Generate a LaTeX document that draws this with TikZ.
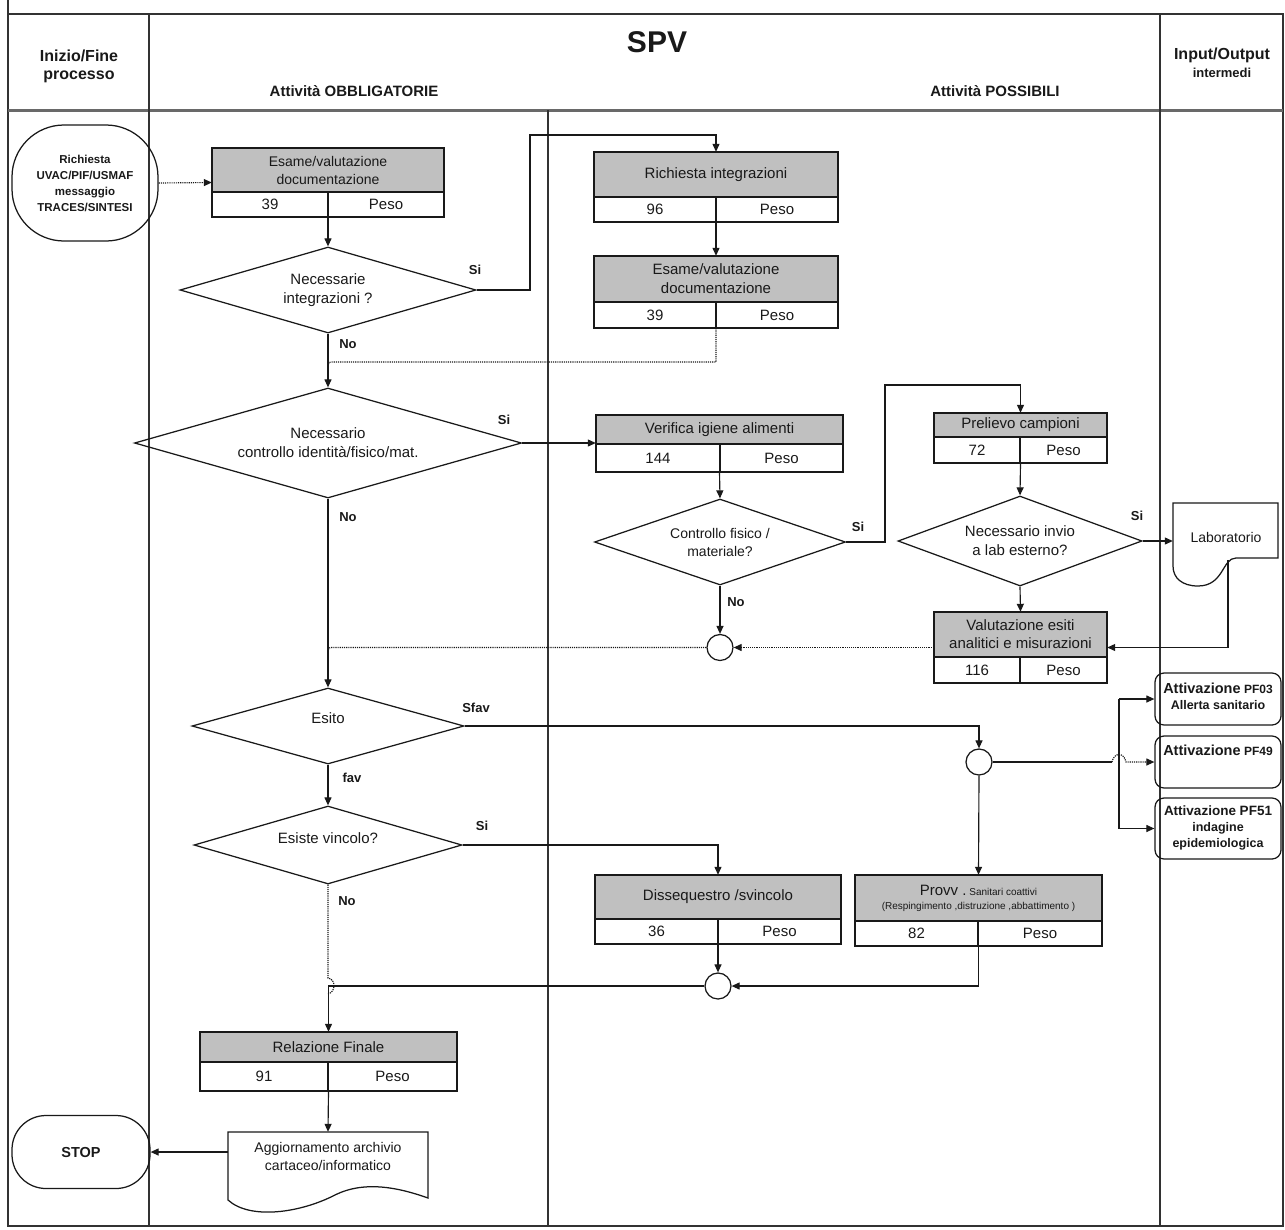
\documentclass[tikz,border=0pt]{standalone}
\usepackage{fontspec}
\setmainfont{Liberation Sans}
\usetikzlibrary{arrows.meta,shapes.geometric,fit}
\definecolor{boxgray}{RGB}{192,192,192}
\definecolor{ink}{RGB}{25,25,25}
\definecolor{framec}{RGB}{50,50,50}
\definecolor{rulec}{RGB}{105,105,105}

\tikzset{
  conn/.style={line width=1.15pt, draw=ink},
  arr/.style={conn, -{Triangle[length=8pt,width=7pt]}},
  dconn/.style={conn, densely dotted},
  darr/.style={arr, densely dotted},
  boxline/.style={line width=1.25pt, draw=ink},
  boxtext/.style={font=\fontsize{15}{19}\selectfont, align=center, text=ink, inner sep=0pt},
  boxtitle/.style={},
  decision/.style={draw=ink, line width=1.25pt, diamond, inner sep=0pt, align=center,
                   font=\fontsize{15}{19}\selectfont, text=ink},
  dtext/.style={font=\fontsize{15}{19}\selectfont, align=center, text=ink, inner sep=0pt},
  junction/.style={draw=ink, line width=1.25pt, circle, minimum size=26pt, inner sep=0pt},
  terminal/.style={draw=ink, line width=1.25pt, rectangle, align=center, text=ink},
  lbl/.style={font=\bfseries\fontsize{13}{15}\selectfont, text=ink, inner sep=0pt},
  hdr/.style={font=\bfseries\fontsize{16}{18}\selectfont, align=center, text=ink, inner sep=0pt},
  pfbox/.style={draw=ink, line width=1.25pt, rounded corners=9pt, inner sep=0pt},
  pftext/.style={font=\bfseries\fontsize{12.5}{16}\selectfont, align=center, text=ink, inner sep=0pt},
  fitbox/.style={inner sep=0pt},
}

% activity box: name, x1, y1, x2, y of split, y2, x of divider, title, number
\newcommand{\actbox}[9]{%
  \fill[boxgray] (#2,#3) rectangle (#4,#5);
  \draw[boxline] (#2,#3) rectangle (#4,#6);
  \draw[boxline] (#2,#5) -- (#4,#5) (#7,#5) -- (#7,#6);
  \node[boxtext, boxtitle] (#1-title) at ({(#2+#4)/2},{(#3+#5)/2}) {#8};
  \node[boxtext] (#1-num) at ({(#2+#7)/2},{(#5+#6)/2}) {#9};
  \node[boxtext] (#1-peso) at ({(#7+#4)/2},{(#5+#6)/2}) {Peso};
  \node[fitbox, fit={(#2,#3) (#4,#6)}] (#1) {};
}

\begin{document}
\begin{tikzpicture}[x=1pt,y=-1pt]
\useasboundingbox (0,0) rectangle (1285,1229);

% swimlane frame
\draw[line width=1.8pt, framec] (8,0) -- (8,1226) -- (1283,1226) -- (1283,14) -- (8,14);
\draw[line width=3pt, rulec] (8,110) -- (1283,110);
\draw[line width=1.3pt, framec] (149,14) -- (149,1226) (1160,14) -- (1160,1226) (548,110) -- (548,1226);

% header
\node[hdr] (h-start) at (79,66) {Inizio/Fine\\processo};
\node[hdr, font=\bfseries\fontsize{30}{34}\selectfont] (h-spv) at (657,42) {SPV};
\node[hdr, font=\bfseries\fontsize{15}{17}\selectfont] (h-obb) at (354,91) {Attività OBBLIGATORIE};
\node[hdr, font=\bfseries\fontsize{15}{17}\selectfont] (h-pos) at (995,91) {Attività POSSIBILI};
\node[hdr] (h-io) at (1222,63) {{\fontsize{16}{17}\selectfont Input/Output}\\{\fontsize{13}{15}\selectfont intermedi}};

% terminals
\node[terminal, minimum width=146pt, minimum height=116pt, rounded corners=52pt,
      font=\bfseries\fontsize{11.5}{16}\selectfont] (start) at (85,183)
      {Richiesta\\UVAC/PIF/USMAF\\messaggio\\TRACES/SINTESI};
\node[terminal, minimum width=138pt, minimum height=73pt, rounded corners=34pt,
      font=\bfseries\fontsize{14.5}{16}\selectfont] (stop) at (81,1152) {STOP};

% activity boxes
\begin{scope}[boxtitle/.style={font=\fontsize{14}{18}\selectfont}]
\actbox{b1}{212}{148}{444}{192}{217}{328}{Esame/valutazione\\documentazione}{39}
\end{scope}
\actbox{b2}{594}{152}{838}{197}{222}{716}{Richiesta integrazioni}{96}
\actbox{b3}{594}{256}{838}{302}{328}{716}{Esame/valutazione\\documentazione}{39}
\actbox{b4}{596}{415}{843}{444}{472}{720}{Verifica igiene alimenti}{144}
\actbox{b5}{934}{413}{1107}{437}{463}{1020}{Prelievo campioni}{72}
\begin{scope}[boxtitle/.style={font=\fontsize{15}{18}\selectfont}]
\actbox{b6}{934}{612}{1107}{657}{683}{1020}{Valutazione esiti\\analitici e misurazioni}{116}
\end{scope}
\actbox{b7}{595}{875}{841}{919}{944}{718}{Dissequestro /svincolo}{36}
\begin{scope}[boxtitle/.style={font=\fontsize{10}{14}\selectfont}]
\actbox{b8}{855}{875}{1102}{921}{946}{978}{{\fontsize{15}{17}\selectfont Provv .}\ Sanitari coattivi\\(Respingimento ,distruzione ,abbattimento )}{82}
\end{scope}
\actbox{b9}{200}{1032}{457}{1062}{1091}{328}{Relazione Finale}{91}

% decisions
\node[decision, minimum width=296pt, minimum height=86pt, aspect=3.44] (d1) at (328,290) {Necessarie\\integrazioni ?};
\node[decision, minimum width=387pt, minimum height=110pt, aspect=3.52] (d2) at (328,443) {Necessario\\controllo identità/fisico/mat.};
\node[decision, minimum width=251pt, minimum height=86pt, aspect=2.92, font=\fontsize{14}{18}\selectfont] (d3) at (720,542) {Controllo fisico /\\materiale?};
\node[decision, minimum width=244pt, minimum height=90pt, aspect=2.71] (d4) at (1020,541) {Necessario invio\\a lab esterno?};
\node[decision, minimum width=272pt, minimum height=76pt, aspect=3.58] (esito) at (328,726) {};
\node[dtext] (esito-t) at (328,718) {Esito};
\node[decision, minimum width=268pt, minimum height=78pt, aspect=3.44] (d6) at (328,845) {};
\node[dtext] (d6-t) at (328,838) {Esiste vincolo?};

% junctions
\node[junction] (j1) at (720,647.5) {};
\node[junction] (j2) at (979,762) {};
\node[junction] (j3) at (718,986) {};

% document shapes
\draw[boxline, fill=white] (1173,503) -- (1278,503) -- (1278,558) -- (1236,558)
  .. controls (1222,558) and (1224,586) .. (1198,586)
  .. controls (1182,586) and (1173,578) .. (1173,566) -- cycle;
\node[fitbox, fit={(1173,503) (1278,579)}] (lab) {};
\node[dtext, font=\fontsize{14}{17}\selectfont] (lab-t) at (1226,537) {Laboratorio};
\coordinate (labout) at (1228,560);

\draw[boxline, fill=white] (228,1132) -- (428,1132) -- (428,1198)
  .. controls (400,1188) and (365,1180) .. (335,1195)
  .. controls (300,1213) and (250,1220) .. (228,1200) -- cycle;
\node[fitbox, fit={(228,1132) (428,1172)}] (agg) {};
\node[dtext, font=\fontsize{14}{18}\selectfont] (agg-t) at (328,1156) {Aggiornamento archivio\\cartaceo/informatico};

% output boxes
\node[pfbox, fit={(1155,673) (1281,725)}] (pf03) {};
\node[pfbox, fit={(1155,736) (1281,788)}] (pf49) {};
\node[pfbox, fit={(1155,798) (1281,859)}] (pf51) {};
\node[pftext] (pf03-t) at (1218,696) {{\fontsize{14.5}{16}\selectfont Attivazione} {\fontsize{12}{13}\selectfont PF03}\\Allerta sanitario};
\node[pftext] (pf49-t) at (1218,750) {{\fontsize{14.5}{16}\selectfont Attivazione} {\fontsize{12}{13}\selectfont PF49}};
\node[pftext] (pf51-t) at (1218,828) {{\fontsize{13.5}{15}\selectfont Attivazione PF51}\\indagine\\epidemiologica};

% connectors
\draw[darr] (start.east) -- (b1.west);
\draw[arr] (b1.south) -- (d1.north);
\draw[arr] (d1.east) -| (530,135) -| (b2.north);
\draw[arr] (b2.south) -- (b3.north);
\draw[dconn] (b3.south) |- (333,362) .. controls (329,362) .. (328,366);
\draw[arr] (d1.south) -- (d2.north);
\draw[arr] (d2.east) -- (d2.east -| b4.west);
\draw[arr] (b4.south) -- (d3.north);
\draw[arr] (d3.south) -- (j1.north);
\draw[arr] (d3.east) -| (885,385) -| (b5.north);
\draw[arr] (b5.south) -- (d4.north);
\draw[arr] (d4.east) -- (d4.east -| lab.west);
\draw[arr] (d4.south) -- (b6.north);
\draw[arr] (labout) |- (b6.east);
\draw[darr] (b6.west) -- (j1.east);
\draw[dconn] (j1.west) -- (333,647.5) .. controls (329,647.5) .. (328,651);
\draw[arr] (d2.south) -- (esito.north);
\draw[arr] (esito.east) -| (j2.north);
\draw[arr] (esito.south) -- (d6.north);
\draw[arr] (d6.east) -| (b7.north);
\draw[arr] (j2.south) -- (b8.north);
\draw[arr] (b7.south) -- (j3.north);
\draw[arr] (b8.south) |- (j3.east);
\draw[arr] (j3.west) -| (b9.north);
\draw[dconn] (d6.south) -- (328,978) .. controls (336,979) and (336,992) .. (328,994);
\draw[arr] (b9.south) -- (agg.north);
\draw[arr] (agg.west) -- (stop.east);

% outputs fan-out
\coordinate (bustop) at (1119,699);
\coordinate (busbot) at (1119,828.5);
\draw[conn] (j2.east) -- (1112,762);
\draw[darr] (1112,762) .. controls (1114,752) and (1124,752) .. (1126,762) -- (pf49.west);
\draw[conn] (bustop) -- (busbot);
\draw[arr] (bustop) -- (pf03.west);
\draw[arr] (busbot) -- (pf51.west);

% edge labels
\node[lbl] (l-si1) at (475,270) {Si};
\node[lbl] (l-no1) at (348,344) {No};
\node[lbl] (l-si2) at (504,420) {Si};
\node[lbl] (l-no2) at (348,517) {No};
\node[lbl] (l-si3) at (858,527) {Si};
\node[lbl] (l-no3) at (736,602) {No};
\node[lbl] (l-si4) at (1137,516) {Si};
\node[lbl] (l-sfav) at (476,708) {Sfav};
\node[lbl] (l-fav) at (352,778) {fav};
\node[lbl] (l-si6) at (482,826) {Si};
\node[lbl] (l-no6) at (347,901) {No};
\end{tikzpicture}
\end{document}
